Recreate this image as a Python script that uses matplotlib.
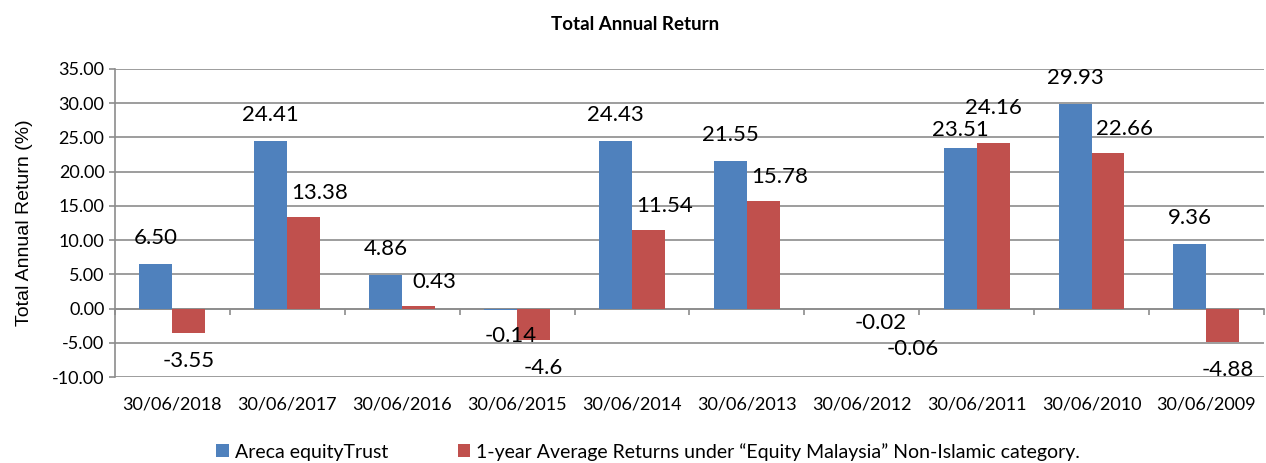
import numpy as np
import matplotlib
matplotlib.use("Agg")
import matplotlib.pyplot as plt
from matplotlib.ticker import MultipleLocator, FormatStrFormatter

dates = ["30/06/2018", "30/06/2017", "30/06/2016", "30/06/2015", "30/06/2014",
         "30/06/2013", "30/06/2012", "30/06/2011", "30/06/2010", "30/06/2009"]
fund = [6.50, 24.41, 4.86, -0.14, 24.43, 21.55, -0.02, 23.51, 29.93, 9.36]
fund_txt = ["6.50", "24.41", "4.86", "-0.14", "24.43", "21.55", "-0.02", "23.51", "29.93", "9.36"]
category = [-3.55, 13.38, 0.43, -4.6, 11.54, 15.78, -0.06, 24.16, 22.66, -4.88]
cat_txt = ["-3.55", "13.38", "0.43", "-4.6", "11.54", "15.78", "-0.06", "24.16", "22.66", "-4.88"]

names = ["Areca equityTrust",
         "1-year Average Returns under \u201cEquity Malaysia\u201d Non-Islamic category."]

blue = "#4F81BD"
red = "#C0504D"
grid = "#8C8C8C"

plt.rcParams["font.family"] = ["Lato", "DejaVu Sans"]

fig = plt.figure(figsize=(12.66, 4.63), dpi=100)
ax = fig.add_axes([0.0908, 0.1857, 0.9075, 0.6653])

x = np.arange(len(dates))
w = 0.287
b1 = ax.bar(x - w / 2, fund, w, color=blue, label=names[0], zorder=3)
b2 = ax.bar(x + w / 2, category, w, color=red, label=names[1], zorder=3)

# labels that were dragged by hand in the source chart: (dx, dy) pixels from the bar end
moved = {
    ("f", "-0.14"): (10, -26),
    ("f", "-0.02"): (35, -14),
    ("c", "-0.06"): (35, -40),
    ("c", "-4.6"): (10, -28),
    ("c", "-4.88"): (5, -28),
    ("f", "23.51"): (0, 18),
    ("c", "24.16"): (0, 35),
}

def put(xc, v, txt, key):
    if v >= 0:
        dx, dy = (0, 26) if key == "f" else (16, 24)
    else:
        dx, dy = 0, -28
    dx, dy = moved.get((key, txt), (dx, dy))
    ax.annotate(txt, (xc, v), xytext=(dx, dy), textcoords="offset pixels",
                ha="center", va="center", fontsize=16, zorder=4)

for i in range(len(dates)):
    put(x[i] - w / 2, fund[i], fund_txt[i], "f")
    put(x[i] + w / 2, category[i], cat_txt[i], "c")

ax.set_xlim(-0.5, len(dates) - 0.5)
ax.set_ylim(-10, 35)
ax.yaxis.set_major_locator(MultipleLocator(5))
ax.yaxis.set_major_formatter(FormatStrFormatter("%.2f"))
ax.grid(axis="y", color=grid, linewidth=1.2, zorder=0)
ax.set_axisbelow(True)

# category axis runs along zero, labels hang below the plot
ax.spines["bottom"].set_position(("data", 0))
ax.spines["bottom"].set_color(grid)
ax.spines["bottom"].set_linewidth(1.2)
ax.set_xticks(x)
ax.set_xticklabels(dates, fontsize=13)
ax.set_xticks(np.arange(-0.5, len(dates), 1), minor=True)
ax.tick_params(axis="x", which="major", length=0, pad=63)
ax.tick_params(axis="x", which="minor", length=4.5, width=1.2, color=grid, direction="out")
ax.tick_params(axis="y", labelsize=13, length=4.5, width=1.2, color=grid, pad=3)

for s in ["top", "right"]:
    ax.spines[s].set_visible(False)
ax.spines["left"].set_color(grid)
ax.spines["left"].set_linewidth(1.2)

ax.set_ylabel("Total Annual Return (%)", fontsize=14, family=["Liberation Sans", "DejaVu Sans"], labelpad=14)

fig.text(0.502, 0.948, "Total Annual Return", ha="center", va="center",
         fontsize=13.5, fontweight="bold")

fig.legend(handles=[b1, b2], loc="center left", bbox_to_anchor=(0.163, 0.024), ncol=2,
           frameon=False, fontsize=14, handlelength=0.65, handleheight=0.65,
           handletextpad=0.3, columnspacing=3.6, borderpad=0)

fig.savefig("out.png", dpi=100)
